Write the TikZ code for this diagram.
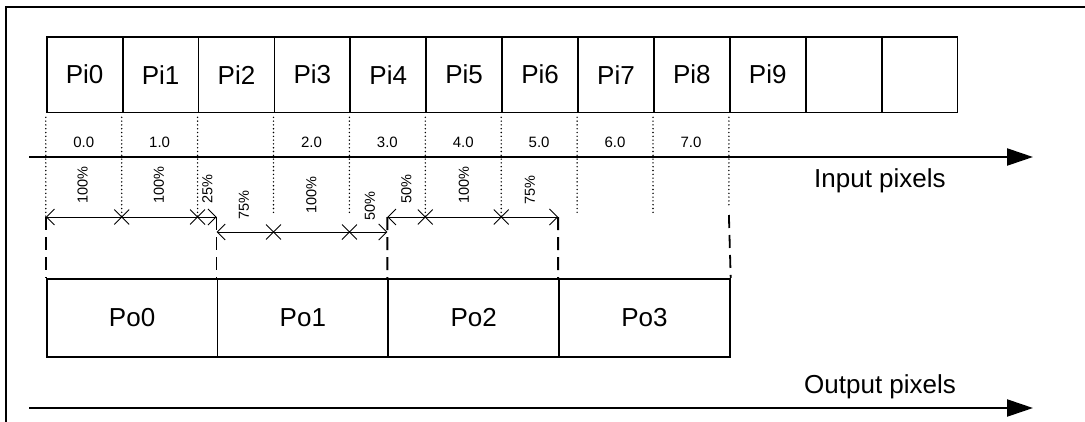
\documentclass[tikz,border=0pt]{standalone}
\usepackage{fontspec}
\setmainfont{Liberation Sans}
\usetikzlibrary{arrows.meta,calc,shapes.misc}
\begin{document}
\begin{tikzpicture}[x=1pt,y=-1pt,
  ibox/.style={draw, line width=1.8pt, minimum width=75.9pt, minimum height=75.5pt, inner sep=0pt, anchor=north west, font=\fontsize{26}{26}\selectfont},
  obox/.style={draw, line width=1.8pt, minimum width=170.775pt, minimum height=78pt, inner sep=0pt, anchor=north west, font=\fontsize{26}{26}\selectfont},
  axis/.style={line width=2.2pt, -{Triangle[length=26pt,width=17pt]}},
  bigtext/.style={inner sep=0pt, font=\fontsize{26}{26}\selectfont},
  numlbl/.style={inner sep=0pt, font=\fontsize{15}{15}\selectfont},
  pctlbl/.style={inner sep=0pt, rotate=90, font=\fontsize{14.5}{14.5}\selectfont},
  dotline/.style={line width=1.6pt, line cap=round, dash pattern=on 0pt off 3.8pt},
  dashline/.style={line width=1.8pt, dash pattern=on 13pt off 7pt},
  span/.style={line width=0.9pt, {Straight Barb[length=8pt,width=16pt]}-{Straight Barb[length=8pt,width=16pt]}},
  xmk/.style={draw, cross out, minimum size=14pt, inner sep=0pt, line width=0.9pt}
]
\useasboundingbox (0,0) rectangle (1085,421);
\fill[white] (0,0) rectangle (1085,421);
% frame
\draw[line width=2pt] (6,440) -- (6,7) -- (1100,7);
% input boxes
\foreach \i/\t in {0/Pi0,1/Pi1,2/Pi2,3/Pi3,4/Pi4,5/Pi5,6/Pi6,7/Pi7,8/Pi8,9/Pi9,10/{},11/{}}
  \node[ibox] (pi\i) at ({45.8+75.9*\i},36) {\t};
% dotted lines from box boundaries
\foreach \i/\e in {0/217,1/217,2/217,3/215,4/215,5/217,6/217,7/215,8/215} {
  \coordinate (de\i) at ({45.8+75.9*\i},\e);
  \draw[dotline] ($(pi\i.south west)+(0,4)$) -- (de\i);
}
\coordinate (de9) at (728.9,208);
\draw[dotline] ($(pi9.south west)+(0,4)$) -- (de9);
% input axis
\coordinate (ia0) at (29,157);
\coordinate (ia1) at (1033,157);
\draw[axis] (ia0) -- (ia1);
\node[bigtext, anchor=base west] (inlbl) at (814,187) {Input pixels};
% position labels
\foreach \m/\t in {0/0.0,1/1.0,3/2.0,4/3.0,5/4.0,6/5.0,7/6.0,8/7.0}
  \node[numlbl] (num\m) at ({45.8+75.9*(\m+0.5)},142) {\t};
% percentage labels
\node[pctlbl] (pc1) at (82.7,185) {100\%};
\node[pctlbl] (pc2) at (159,185) {100\%};
\node[pctlbl] (pc3) at (207.5,189) {25\%};
\node[pctlbl] (pc4) at (244,205) {75\%};
\node[pctlbl] (pc5) at (311.5,195) {100\%};
\node[pctlbl] (pc6) at (370,206) {50\%};
\node[pctlbl] (pc7) at (406.5,189) {50\%};
\node[pctlbl] (pc8) at (464,185) {100\%};
\node[pctlbl] (pc9) at (530,190) {75\%};
% output boxes
\foreach \i/\t in {0/Po0,1/Po1,2/Po2,3/Po3}
  \node[obox] (po\i) at ({45.8+170.775*\i},278) {\t};
% span coordinates
\coordinate (s0) at (45.8,217);
\coordinate (s1a) at (216.575,217);
\coordinate (s1b) at (216.575,232);
\coordinate (s2a) at (387.35,232);
\coordinate (s2b) at (387.35,217);
\coordinate (s3) at (558.125,217);
\coordinate (s4) at (728.9,215);
% dashed verticals
\draw[dashline] (s0) -- (po0.north west);
\draw[dashline] (s1a) -- (po1.north west);
\draw[dashline] (s2b) -- (po2.north west);
\draw[dashline] (s3) -- (po3.north west);
\draw[dashline] (s4) -- (po3.north east);
% spans
\draw[span] (s0) -- (s1a);
\draw[span] (s1b) -- (s2a);
\draw[span] (s2b) -- (s3);
% cross marks
\node[xmk] (x1) at (121.7,217) {};
\node[xmk] (x2) at (197.6,217) {};
\node[xmk] (x3) at (273.5,232) {};
\node[xmk] (x4) at (349.4,232) {};
\node[xmk] (x5) at (425.3,217) {};
\node[xmk] (x6) at (501.2,217) {};
% output axis
\coordinate (oa0) at (29,408);
\coordinate (oa1) at (1033,408);
\draw[axis] (oa0) -- (oa1);
\node[bigtext, anchor=base west] (outlbl) at (804,393) {Output pixels};
\end{tikzpicture}
\end{document}
